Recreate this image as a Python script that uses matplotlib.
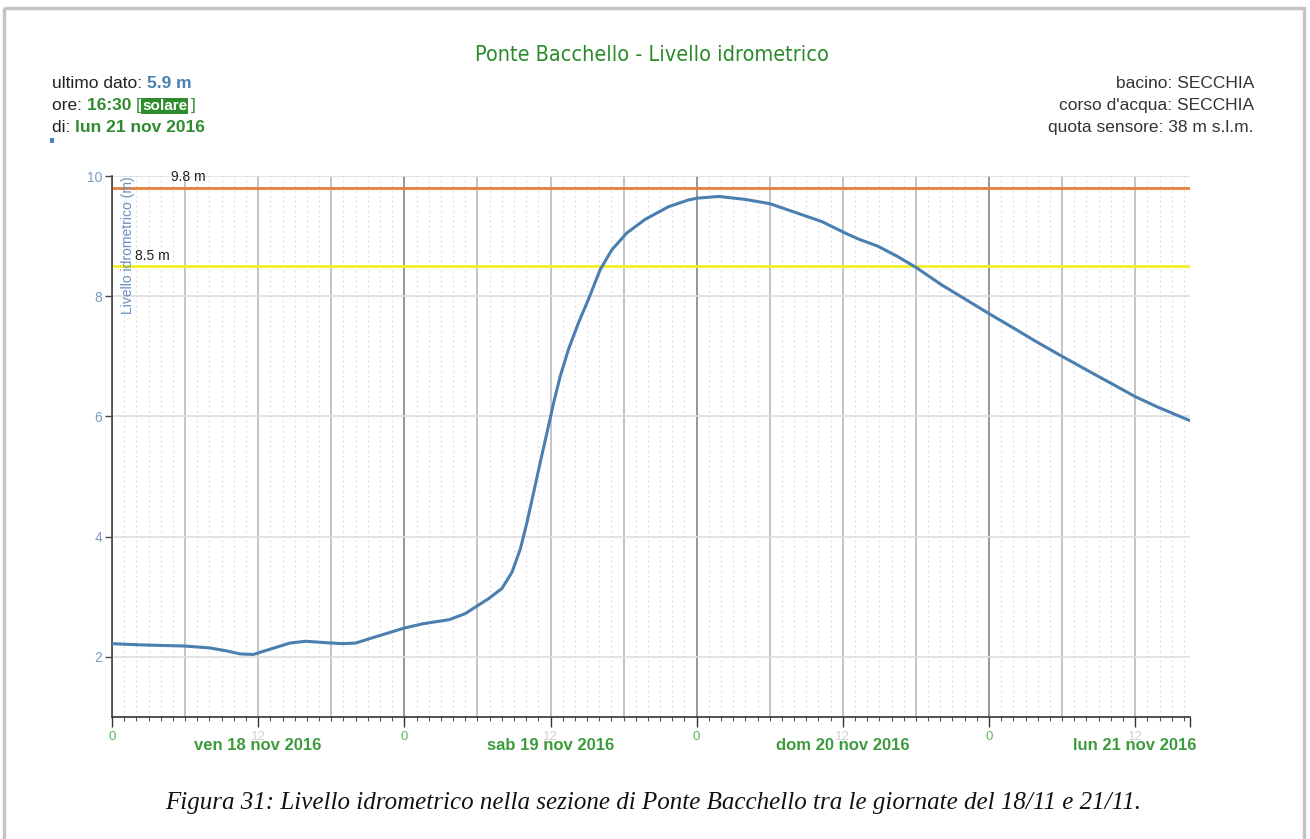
import matplotlib
matplotlib.use('Agg')
import matplotlib.pyplot as plt
import matplotlib.transforms as mtransforms
from matplotlib.patches import Rectangle

plt.rcParams['font.family'] = ['Liberation Sans', 'DejaVu Sans']

# ore trascorse dalle 00:00 di ven 18 nov 2016
hours = [0, 2.3, 4.2, 6, 8, 9.4, 10.5, 11.6, 12.7, 14.6, 15.9, 17.3, 18.9, 20,
         21.9, 24, 25.5, 27.7, 29, 29.84, 30.93, 32.02, 32.84, 33.53, 34.07,
         34.62, 35.16, 35.71, 36.26, 36.8, 37.48, 38.3, 39.12, 40.07, 41.03,
         42.25, 43.78, 45.7, 47.3, 48, 49.8, 52, 54, 56.3, 58.3, 60.2, 61.3,
         62.9, 64.5, 66, 68.1, 70.3, 72, 74.1, 76, 78, 80.4, 82.3, 84, 85.8, 88.5]
level = [2.22, 2.20, 2.19, 2.18, 2.15, 2.10, 2.05, 2.04, 2.11, 2.23, 2.26, 2.24,
         2.22, 2.23, 2.35, 2.48, 2.55, 2.62, 2.72, 2.83, 2.97, 3.14, 3.41, 3.80,
         4.24, 4.74, 5.24, 5.73, 6.23, 6.67, 7.12, 7.56, 7.95, 8.44, 8.77, 9.05,
         9.28, 9.49, 9.60, 9.63, 9.66, 9.61, 9.54, 9.38, 9.24, 9.05, 8.95, 8.83,
         8.66, 8.48, 8.19, 7.92, 7.71, 7.46, 7.23, 7.00, 6.73, 6.52, 6.33, 6.16, 5.93]

soglia_alta = 9.8
soglia_bassa = 8.5
day_labels = ['ven 18 nov 2016', 'sab 19 nov 2016', 'dom 20 nov 2016', 'lun 21 nov 2016']
y_ticks = [2, 4, 6, 8, 10]

W, H = 1310, 839
fig = plt.figure(figsize=(W / 100, H / 100), dpi=100)
fig.patch.set_facecolor('white')

# sfondo in coordinate pixel per testi e cornice
bg = fig.add_axes([0, 0, 1, 1])
bg.set_xlim(0, W)
bg.set_ylim(H, 0)
bg.axis('off')
bg.add_patch(Rectangle((4, 8), 1300, 900, fill=False, edgecolor='#c4c4c4', lw=2.5))
bg.add_patch(Rectangle((50, 138), 3.5, 4.5, color='#4a7fc0', lw=0))

ax = fig.add_axes([112 / W, 1 - 717 / H, 1078 / W, 541 / H])
ax.set_xlim(0, 88.5)
ax.set_ylim(1, 10)
ax.patch.set_alpha(0)

# griglia
for h in range(0, 89):
    if h % 6 == 0:
        c = '#7a7a7a' if h % 24 == 0 else '#b4b4b4'
        ax.axvline(h, color=c, lw=1.1, zorder=1)
    else:
        ax.axvline(h, color='#d8d8d8', lw=0.8, ls=(0, (1.5, 3)), zorder=1)
for v in y_ticks:
    ax.axhline(v, color='#dedede', lw=1.2, zorder=1)

ax.axhline(soglia_alta, color='#e8803a', lw=2, zorder=2)
ax.axhline(soglia_bassa, color='#f0f02a', lw=2, zorder=2)
ax.text(6.3, soglia_alta + 0.06, '9.8 m', fontsize=10, color='#222222', va='bottom', ha='center')
ax.text(3.3, soglia_bassa + 0.06, '8.5 m', fontsize=10, color='#222222', va='bottom', ha='center')

ax.plot(hours, level, color='#4a7fb0', lw=2.2, zorder=3, solid_capstyle='round',
        solid_joinstyle='round')

for s in ['top', 'right']:
    ax.spines[s].set_visible(False)
ax.spines['left'].set_color('#444444')
ax.spines['bottom'].set_color('#333333')
ax.spines['left'].set_linewidth(1.2)
ax.spines['bottom'].set_linewidth(1.2)

ax.set_yticks(y_ticks)
ax.set_yticklabels([str(v) for v in y_ticks])
ax.tick_params(axis='y', length=5, width=1, color='#444444', labelsize=10,
               labelcolor='#7d9bc0', pad=2)

xt = list(range(0, 85, 12)) + [88.5]
ax.set_xticks(xt)
ax.set_xticklabels(['0' if t % 24 == 0 else ('12' if t % 12 == 0 else '') for t in xt])
ax.tick_params(axis='x', length=7, width=1, color='#333333', labelsize=9.5, pad=3)
for t, lab in zip(xt, ax.get_xticklabels()):
    lab.set_color('#5cb85c' if t % 24 == 0 else '#d2d2d2')
ax.set_xticks(range(0, 89), minor=True)
ax.tick_params(axis='x', which='minor', length=3, width=0.8, color='#555555')

trans = mtransforms.blended_transform_factory(ax.transData, ax.transAxes)
for i, lab in enumerate(day_labels):
    ax.text(12 + 24 * i, -0.052, lab, transform=trans, ha='center', va='center',
            fontsize=12, fontweight='bold', color='#3c9c3c', clip_on=False)

ax.text(0.0145, 1.0, 'Livello idrometrico (m)', transform=ax.transAxes, rotation=90,
        ha='center', va='top', fontsize=10, color='#6a8fc0')

# titolo
bg.text(652, 55, 'Ponte Bacchello - Livello idrometrico', ha='center', va='center',
        fontsize=15.5, color='#2a8a2a', family=['DejaVu Sans'], fontstretch='condensed',
        fontweight='medium')

# testi in alto a sinistra
fs = 12.5
t = bg.text(52, 91, 'ultimo dato: ', fontsize=fs, color='#222222', va='bottom')
bg.annotate('5.9 m', xy=(1, 0), xycoords=t, va='bottom', fontsize=fs, fontweight='bold',
            color='#4a7fb0')
t = bg.text(52, 113, 'ore: ', fontsize=fs, color='#222222', va='bottom')
t = bg.annotate('16:30 ', xy=(1, 0), xycoords=t, va='bottom', fontsize=fs, fontweight='bold',
                color='#2e8b2e')
t = bg.annotate('[', xy=(1, 0), xycoords=t, va='bottom', fontsize=fs, color='#2e8b2e')
t = bg.annotate('solare', xy=(1.25, 0), xycoords=t, va='bottom', fontsize=11, fontweight='bold',
                color='white', bbox=dict(boxstyle='square,pad=0.05', fc='#2e8b2e', ec='none'))
bg.annotate(']', xy=(1.08, 0), xycoords=t, va='bottom', fontsize=fs, color='#2e8b2e')
t = bg.text(52, 135, 'di: ', fontsize=fs, color='#222222', va='bottom')
bg.annotate('lun 21 nov 2016', xy=(1, 0), xycoords=t, va='bottom', fontsize=fs,
            fontweight='bold', color='#2e8b2e')

# testi in alto a destra
for y, s in [(91, 'bacino: SECCHIA'), (113, "corso d'acqua: SECCHIA"),
             (135, 'quota sensore: 38 m s.l.m.')]:
    bg.text(1254, y, s, ha='right', va='bottom', fontsize=fs, color='#333333')

# didascalia
bg.text(653, 803, 'Figura 31: Livello idrometrico nella sezione di Ponte Bacchello tra le giornate del 18/11 e 21/11.',
        ha='center', va='center', fontsize=18, style='italic', color='#111111',
        family=['Liberation Serif', 'DejaVu Serif'])

fig.savefig('out.png', dpi=100)
